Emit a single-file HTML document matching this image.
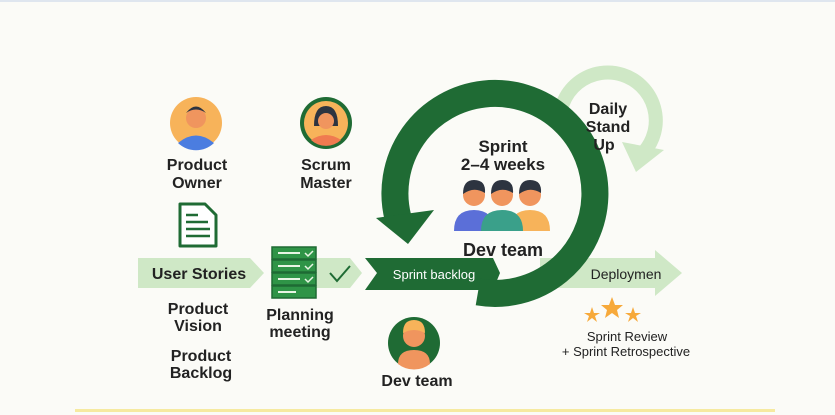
<!DOCTYPE html>
<html><head><meta charset="utf-8"><style>
html,body{margin:0;padding:0;background:#fbfbf7;}
svg{display:block}
text{font-family:"Liberation Sans",sans-serif;font-weight:bold;fill:#222;}
</style></head><body>
<svg width="835" height="415" viewBox="0 0 835 415" xmlns="http://www.w3.org/2000/svg">
<rect width="835" height="415" fill="#fbfbf7"/>
<rect x="0" y="0" width="835" height="2" fill="#dfe6ef"/>
<rect x="75" y="409" width="700" height="3" fill="#f6eaa0"/>

<path d="M560 125 A48 48 0 1 1 644 152" fill="none" stroke="#cfe8c6" stroke-width="14"/>
<polygon points="622,142 664,150 636,172" fill="#cfe8c6"/>

<polygon points="138,258 250,258 264,273 250,288 138,288" fill="#cfe8c6"/>
<polygon points="315,258 350,258 362,273 350,288 315,288" fill="#cfe8c6"/>
<polygon points="540,258 655,258 655,250 682,273 655,296 655,288 540,288" fill="#cfe8c6"/>
<polygon points="365,258 493,258 500,273 493,290 365,290 377,273" fill="#1f6b34"/>

<path d="M478 292 A100 100 0 1 0 398 218" fill="none" stroke="#1f6b34" stroke-width="27"/>
<polygon points="376,218 434,210 408,244" fill="#1f6b34"/>

<circle cx="196" cy="123" r="26" fill="#f7b35a"/>
<circle cx="196" cy="118" r="10" fill="#f0955e"/>
<path d="M186 113 Q196 100 206 113 Q196 106 186 113Z" fill="#2d3440"/>
<path d="M178 143 Q196 128 214 143 A26 26 0 0 1 178 143Z" fill="#4b7de0"/>
<text x="197" y="170" font-size="16" text-anchor="middle">Product</text>
<text x="197" y="188" font-size="16" text-anchor="middle">Owner</text>

<circle cx="326" cy="123" r="26" fill="#1f6b34"/>
<circle cx="326" cy="123" r="22" fill="#f7b35a"/>
<path d="M314 126 Q314 106 326 106 Q338 106 338 126Z" fill="#2d3440"/>
<circle cx="326" cy="121" r="8" fill="#f0955e"/>
<path d="M311 140 Q326 130 341 140 A22 22 0 0 1 311 140Z" fill="#f07a50"/>
<text x="326" y="170" font-size="16" text-anchor="middle">Scrum</text>
<text x="326" y="188" font-size="16" text-anchor="middle">Master</text>

<path d="M180 204 H205 L216 215 V246 H180Z" fill="#fff" stroke="#1f6b34" stroke-width="3" stroke-linejoin="round"/>
<path d="M186 215 H198 M186 222 H208 M186 229 H210 M186 236 H210" stroke="#1f6b34" stroke-width="2.5"/>

<text x="199" y="279" font-size="16" text-anchor="middle">User Stories</text>
<text x="198" y="314" font-size="16" text-anchor="middle">Product</text>
<text x="198" y="331" font-size="16" text-anchor="middle">Vision</text>
<text x="201" y="361" font-size="16" text-anchor="middle">Product</text>
<text x="201" y="378" font-size="16" text-anchor="middle">Backlog</text>

<g fill="#2f9447" stroke="#1f6b34" stroke-width="1.5">
<rect x="272" y="247" width="44" height="12"/>
<rect x="272" y="260" width="44" height="12"/>
<rect x="272" y="273" width="44" height="12"/>
<rect x="272" y="286" width="44" height="12"/>
</g>
<path d="M278 253 H300 M278 266 H300 M278 279 H300 M278 292 H296" stroke="#e8f5e4" stroke-width="2"/>
<path d="M305 253 l3 3 l5 -5 M305 266 l3 3 l5 -5 M305 279 l3 3 l5 -5" stroke="#e8f5e4" stroke-width="1.5" fill="none"/>
<text x="300" y="320" font-size="16" text-anchor="middle">Planning</text>
<text x="300" y="337" font-size="16" text-anchor="middle">meeting</text>
<path d="M330 273 l7 8 l13 -15" stroke="#1f6b34" stroke-width="2" fill="none"/>

<text x="434" y="279" font-size="13" text-anchor="middle" style="fill:#fff;font-weight:normal">Sprint backlog</text>

<text x="503" y="152" font-size="17" text-anchor="middle">Sprint</text>
<text x="503" y="170" font-size="17" text-anchor="middle">2–4 weeks</text>
<g>
<path d="M454 231 Q454 210 474 210 Q494 210 494 231Z" fill="#5b6fd8"/>
<circle cx="474" cy="195" r="11" fill="#f0955e"/><path d="M463 194 Q463 180 474 180 Q486 180 485 193 Q474 186 463 194Z" fill="#2d3440"/>
<path d="M510 231 Q510 210 530 210 Q550 210 550 231Z" fill="#f7b35a"/>
<circle cx="530" cy="195" r="11" fill="#f0955e"/><path d="M519 194 Q519 180 530 180 Q542 180 541 193 Q530 186 519 194Z" fill="#2d3440"/>
<path d="M481 231 Q481 210 502 210 Q523 210 523 231Z" fill="#3aa08a"/>
<circle cx="502" cy="195" r="11" fill="#f0955e"/><path d="M491 194 Q491 180 502 180 Q514 180 513 193 Q502 186 491 194Z" fill="#2d3440"/>
</g>
<text x="503" y="256" font-size="18" text-anchor="middle">Dev team</text>

<text x="608" y="114" font-size="16" text-anchor="middle">Daily</text>
<text x="608" y="132" font-size="16" text-anchor="middle">Stand</text>
<text x="604" y="150" font-size="16" text-anchor="middle">Up</text>

<text x="626" y="279" font-size="14" text-anchor="middle" style="font-weight:normal">Deploymen</text>

<g fill="#f7a93a">
<polygon points="612,297 615,305 623,305 617,310 619,318 612,313 605,318 607,310 601,305 609,305"/>
<polygon points="592,307 594,313 600,313 595,316 597,322 592,318 587,322 589,316 584,313 590,313"/>
<polygon points="633,307 635,313 641,313 636,316 638,322 633,318 628,322 630,316 625,313 631,313"/>
</g>
<text x="627" y="341" font-size="13" text-anchor="middle" style="font-weight:normal">Sprint Review</text>
<text x="626" y="356" font-size="13" text-anchor="middle" style="font-weight:normal">+ Sprint Retrospective</text>

<circle cx="414" cy="343" r="26" fill="#1f6b34"/>
<circle cx="414" cy="336" r="11" fill="#f0955e"/>
<path d="M403 333 Q403 320 414 320 Q425 320 425 333 Q414 327 403 333Z" fill="#f7b35a"/>
<path d="M398 364 Q398 350 414 350 Q430 350 430 364 A26 26 0 0 1 398 364Z" fill="#f0955e"/>
<text x="417" y="386" font-size="16" text-anchor="middle">Dev team</text>
</svg>
</body></html>
